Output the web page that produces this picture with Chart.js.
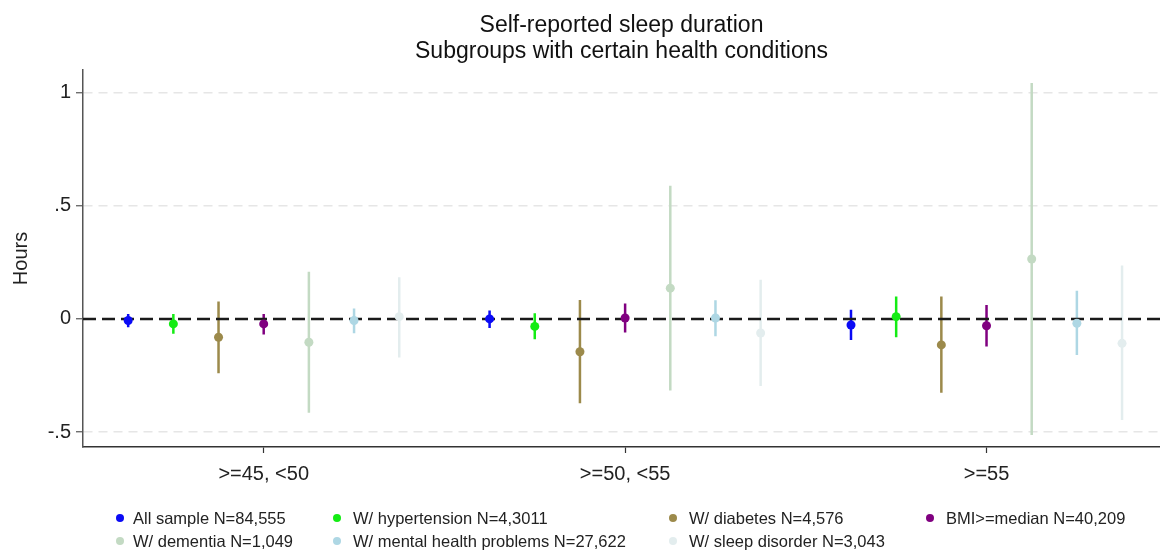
<!DOCTYPE html>
<html>
<head>
<meta charset="utf-8">
<script src="https://cdn.jsdelivr.net/npm/chart.js@4"></script>
<style>
  body { margin: 0; background: #fff; }
  #wrap { position: relative; width: 1160px; height: 555px; }
  #legend { position: absolute; left: 0; top: 0; width: 1160px; height: 555px; pointer-events: none;
            font-family: "Liberation Sans", Arial, sans-serif; font-size: 16.5px; color: #222; }
  .item { position: absolute; white-space: nowrap; line-height: 20px; }
  .dot { position: absolute; width: 8px; height: 8px; border-radius: 50%; left: -4px; top: 6px; }
  .lbl { position: absolute; left: 0; top: 0; }
</style>
</head>
<body>
<div id="wrap">
  <canvas id="sleepChart" width="1160" height="555"></canvas>
  <div id="legend"></div>
</div>
<script>
// Data
const categories = ['>=45, <50', '>=50, <55', '>=55'];
const seriesNames = [
    'All sample N=84,555',
    'W/ hypertension N=4,3011',
    'W/ diabetes N=4,576',
    'BMI>=median N=40,209',
    'W/ dementia N=1,049',
    'W/ mental health problems N=27,622',
    'W/ sleep disorder N=3,043'
];
const seriesColors = ['#0a0af5', '#14ec14', '#9c8a4b', '#800080', '#c3dac3', '#aed7e4', '#e3edee'];

// point estimates, one row per series, one column per category
const estimates = [
    [-0.007,  0.000, -0.027],
    [-0.022, -0.033,  0.010],
    [-0.081, -0.145, -0.115],
    [-0.022,  0.004, -0.030],
    [-0.103,  0.136,  0.265],
    [-0.007,  0.004, -0.019],
    [ 0.010, -0.062, -0.108]
];
const ciLow = [
    [-0.037, -0.040, -0.093],
    [-0.066, -0.090, -0.081],
    [-0.240, -0.373, -0.326],
    [-0.069, -0.060, -0.122],
    [-0.415, -0.316, -0.513],
    [-0.063, -0.077, -0.159],
    [-0.170, -0.296, -0.447]
];
const ciHigh = [
    [0.022, 0.037, 0.040],
    [0.022, 0.025, 0.099],
    [0.077, 0.084, 0.099],
    [0.022, 0.068, 0.062],
    [0.208, 0.589, 1.043],
    [0.046, 0.082, 0.124],
    [0.184, 0.173, 0.236]
];
const yTicks = [-0.5, 0, 0.5, 1];
const yTickLabels = ['-.5', '0', '.5', '1'];

// horizontal position of each series inside a group
const offsets = [-0.375, -0.25, -0.125, 0, 0.125, 0.25, 0.375];
const xMin = 0.5, xMax = 3.48;
const FONT = '"Liberation Sans", Arial, sans-serif';

const datasets = [];

// confidence intervals (drawn first)
seriesNames.forEach(function(name, i) {
    const pts = [];
    categories.forEach(function(c, j) {
        const x = j + 1 + offsets[i];
        pts.push({x: x, y: ciLow[i][j]}, {x: x, y: ciHigh[i][j]}, {x: x, y: null});
    });
    datasets.push({
        label: name + ' CI',
        data: pts,
        showLine: true,
        spanGaps: false,
        borderColor: seriesColors[i],
        borderWidth: 2.5,
        pointRadius: 0,
        order: 3,
        isCI: true
    });
});

// zero reference line
datasets.push({
    label: 'zero',
    data: [{x: xMin, y: 0}, {x: xMax, y: 0}],
    showLine: true,
    borderColor: '#1a1a1a',
    borderWidth: 2.5,
    borderDash: [13, 6],
    pointRadius: 0,
    order: 2,
    isCI: true
});

// point estimates
seriesNames.forEach(function(name, i) {
    datasets.push({
        label: name,
        data: categories.map(function(c, j) { return {x: j + 1 + offsets[i], y: estimates[i][j]}; }),
        backgroundColor: seriesColors[i],
        borderColor: seriesColors[i],
        borderWidth: 0,
        pointRadius: 4.5,
        pointHoverRadius: 4.5,
        order: 1
    });
});

// two-line title centred over the plot area
const titlePlugin = {
    id: 'centerTitle',
    afterDraw: function(chart) {
        const ctx = chart.ctx;
        const cx = (chart.chartArea.left + chart.chartArea.right) / 2;
        ctx.save();
        ctx.fillStyle = '#111';
        ctx.font = '23px ' + FONT;
        ctx.textAlign = 'center';
        ctx.textBaseline = 'alphabetic';
        ctx.fillText('Self-reported sleep duration', cx, 32);
        ctx.fillText('Subgroups with certain health conditions', cx, 58);
        ctx.restore();
    }
};

const ctx = document.getElementById('sleepChart').getContext('2d');
const sleepChart = new Chart(ctx, {
    type: 'scatter',
    data: { datasets: datasets },
    options: {
        responsive: false,
        animation: false,
        events: [],
        layout: { autoPadding: false, padding: { top: 70, right: 0, left: 0, bottom: 0 } },
        plugins: {
            legend: { display: false },
            title: { display: false },
            tooltip: { enabled: false }
        },
        scales: {
            x: {
                type: 'linear',
                min: xMin,
                max: xMax,
                afterBuildTicks: function(s) { s.ticks = categories.map(function(c, j) { return {value: j + 1}; }); },
                afterFit: function(s) { s.height = 108; },
                ticks: {
                    callback: function(v) { return categories[v - 1]; },
                    font: { family: FONT, size: 20 },
                    color: '#222',
                    padding: 9,
                    maxRotation: 0
                },
                grid: { drawOnChartArea: false, tickLength: 6, tickColor: '#333', tickWidth: 1.2 },
                border: { color: '#333', width: 1.5 }
            },
            y: {
                min: -0.566,
                max: 1.10,
                afterBuildTicks: function(s) { s.ticks = yTicks.map(function(v) { return {value: v}; }); },
                afterFit: function(s) { s.width = 83; },
                ticks: {
                    callback: function(v) { return yTickLabels[yTicks.indexOf(v)]; },
                    font: { family: FONT, size: 20 },
                    color: '#222',
                    padding: 5
                },
                grid: {
                    color: function(c) { return c.tick && c.tick.value === 0 ? 'rgba(0,0,0,0)' : '#e6e6e6'; },
                    lineWidth: 1.5,
                    tickLength: 7,
                    tickColor: '#555',
                    tickWidth: 1.2
                },
                border: { color: '#555', width: 1.5, dash: [9, 6] },
                title: {
                    display: true,
                    text: 'Hours',
                    font: { family: FONT, size: 20 },
                    color: '#222',
                    padding: { top: 9, bottom: 0 }
                }
            }
        }
    },
    plugins: [titlePlugin]
});

// legend built from the chart's own point datasets, laid out in 4 columns
const legendCols = [120, 337, 673, 930];
const legendRows = [518, 541];
const legendEl = document.getElementById('legend');
sleepChart.data.datasets.filter(function(d) { return !d.isCI; }).forEach(function(d, k) {
    const item = document.createElement('div');
    item.className = 'item';
    item.style.left = legendCols[k % 4] + 'px';
    item.style.top = (legendRows[Math.floor(k / 4)] - 10) + 'px';
    const dot = document.createElement('span');
    dot.className = 'dot';
    dot.style.background = d.backgroundColor;
    const lbl = document.createElement('span');
    lbl.className = 'lbl';
    lbl.style.left = (k % 4 === 0 ? 13 : 16) + 'px';
    lbl.textContent = d.label;
    item.appendChild(dot);
    item.appendChild(lbl);
    legendEl.appendChild(item);
});
</script>
</body>
</html>
